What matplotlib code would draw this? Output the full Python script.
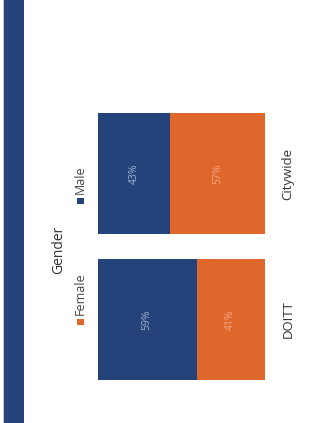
import matplotlib
matplotlib.use("Agg")
import matplotlib.pyplot as plt
from matplotlib.patches import Rectangle

# Gender share by group (percent)
categories = ["DOITT", "Citywide"]
male = [59, 43]
female = [41, 57]
series_names = ["Female", "Male"]
title = "Gender"

NAVY = "#24437a"
ORANGE = "#df672b"

plt.rcParams["font.family"] = ["Open Sans", "DejaVu Sans"]

W, H = 328, 423
fig = plt.figure(figsize=(W / 100, H / 100), dpi=100)
fig.patch.set_facecolor("white")

# Page edge band on the left
fig.patches.append(Rectangle((4 / W, 0), 20 / W, 1, transform=fig.transFigure,
                             facecolor=NAVY, edgecolor="none", zorder=0))
fig.patches.append(Rectangle((2.5 / W, 0), 1 / W, 1, transform=fig.transFigure,
                             facecolor="#c8c8d0", edgecolor="none", zorder=0))

# Stacked 100% bars, laid out sideways
ax = fig.add_axes([98 / W, (H - 392.5) / H, 167 / W, 292 / H])
ypos = list(range(len(categories)))
bh = 0.83
ax.barh(ypos, male, height=bh, color=NAVY, edgecolor="none")
ax.barh(ypos, female, left=male, height=bh, color=ORANGE, edgecolor="none")
ax.set_xlim(0, 100)
ax.set_ylim(-0.5, 1.5)

for y, m, f in zip(ypos, male, female):
    ax.text(m / 2, y, f"{m}%", rotation=90, ha="center", va="center",
            fontsize=7.5, color="#9fb0d0")
    ax.text(m + f / 2, y, f"{f}%", rotation=90, ha="center", va="center",
            fontsize=7.5, color="#f6a58a")

for s in ax.spines.values():
    s.set_visible(False)
ax.set_xticks([])
ax.yaxis.tick_right()
ax.set_yticks(ypos)
ax.set_yticklabels(categories, rotation=90, va="center", fontsize=9.5,
                   color="#333333")
ax.tick_params(axis="y", length=0, pad=12)

# Legend, rotated with the chart
fig.text(59 / W, 1 - 250 / H, title, rotation=90, ha="center", va="center",
         fontsize=10, color="#333333")
legend_items = [(series_names[0], ORANGE, 322), (series_names[1], NAVY, 201)]
for name, col, ysq in legend_items:
    fig.patches.append(Rectangle((77 / W, 1 - (ysq + 3.5) / H), 6.5 / W, 6.5 / H,
                                 transform=fig.transFigure, facecolor=col,
                                 edgecolor="none"))
    fig.text(80.5 / W, 1 - (ysq - 7.5) / H, name, rotation=90, ha="center",
             va="bottom", fontsize=9, color="#444444")

fig.savefig("out.png", dpi=100, facecolor="white")
